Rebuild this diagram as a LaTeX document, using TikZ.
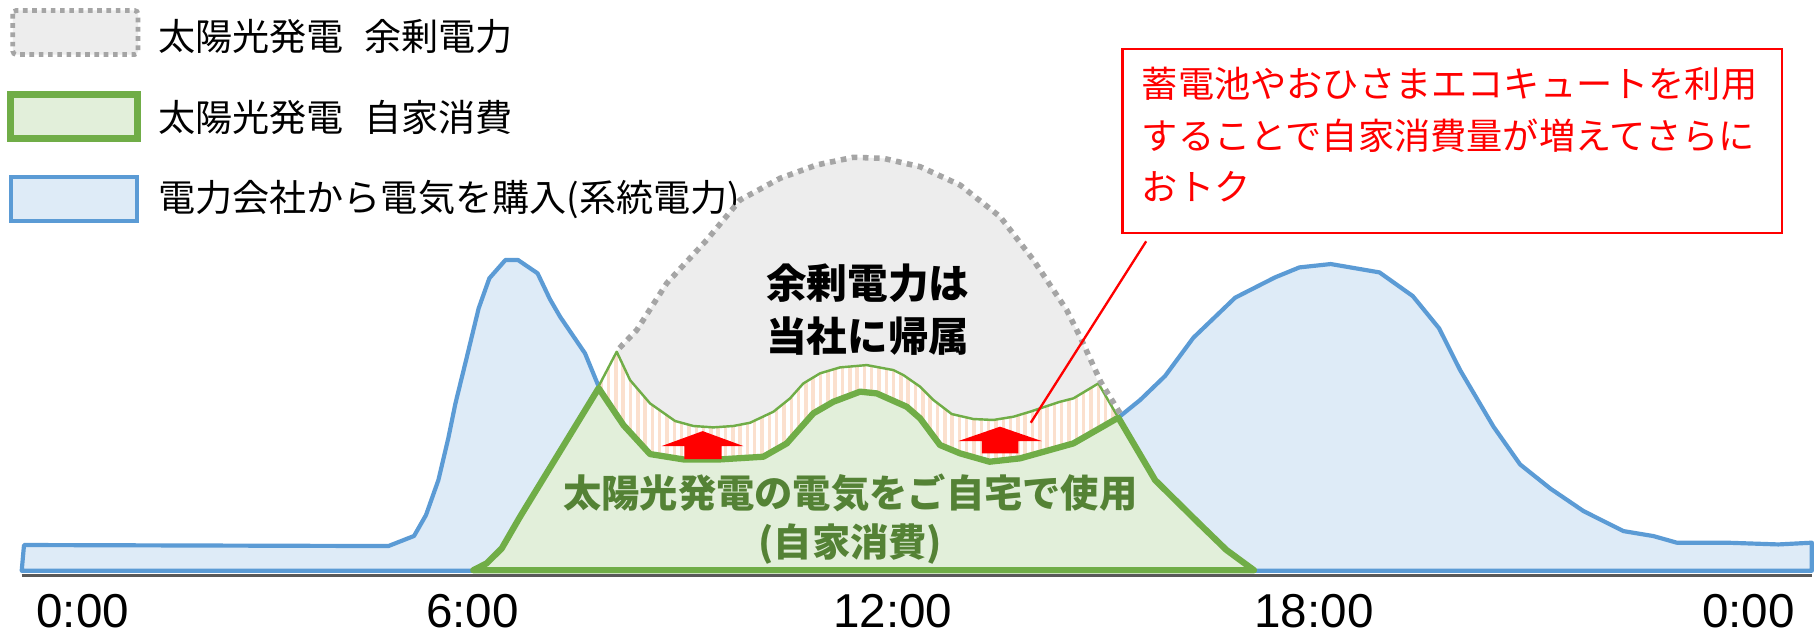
\documentclass[tikz,border=0pt]{standalone}
\usepackage{fontspec}
\setmainfont{Noto Sans CJK JP}
\newfontfamily\digitfont{Liberation Sans}
\definecolor{blueline}{HTML}{5B9BD5}
\definecolor{bluefill}{HTML}{DEEBF7}
\definecolor{greenline}{HTML}{70AD47}
\definecolor{greenfill}{HTML}{E2EFDA}
\definecolor{grayline}{HTML}{A5A5A5}
\definecolor{grayfill}{HTML}{EDEDED}
\definecolor{peach}{HTML}{FBE0CE}
\definecolor{gtext}{HTML}{548235}
\definecolor{axisgray}{HTML}{595959}
\definecolor{calloutred}{HTML}{FF0000}
\tikzset{
  legendtext/.style={anchor=west, inner sep=0pt, font=\fontsize{16}{19}\selectfont},
  boldtext/.style={inner sep=0pt, font=\fontsize{17.5}{21}\selectfont\bfseries},
  greentext/.style={inner sep=0pt, text=gtext, font=\fontsize{16.5}{20}\selectfont\bfseries},
  redtext/.style={anchor=west, inner sep=0pt, text=calloutred, font=\fontsize{15.6}{19}\selectfont},
  axislabel/.style={anchor=west, inner sep=0pt, font=\digitfont\fontsize{20.5}{24}\selectfont},
  bluestroke/.style={draw=blueline, line width=1.8pt, line join=round},
  greenstroke/.style={draw=greenline, line width=2.7pt, line join=round},
  thingreen/.style={draw=greenline, line width=1.05pt, line join=round},
  graydots/.style={draw=grayline, line width=2.4pt, dash pattern=on 2.4pt off 2.4pt},
  uparrow/.style={fill=calloutred}
}
\begin{document}
\begin{tikzpicture}[x=0.5pt,y=-0.5pt]
\useasboundingbox (0,0) rectangle (1568,547.4);
\fill[white] (0,0) rectangle (1568,547.4);

% legend
\path[fill=grayfill, draw=grayline, line width=2pt, dash pattern=on 2pt off 2pt, rounded corners=1.5pt] (11,9) rectangle (119,47);
\node[legendtext] (leg1) at (136,31.6) {太陽光発電\hspace{0.55em}余剰電力};
\path[fill=greenfill, draw=greenline, line width=2.8pt] (9,81.5) rectangle (118.5,119.5);
\node[legendtext] (leg2) at (136,101.3) {太陽光発電\hspace{0.55em}自家消費};
\path[fill=bluefill, draw=blueline, line width=1.8pt] (9.5,152.5) rectangle (118,190.5);
\node[legendtext] (leg3) at (136,171.7) {電力会社から電気を購入(系統電力)};

% grid purchase (blue)
\path[fill=bluefill, bluestroke] (18.7,492) -- (20.7,469.8) -- (334.8,470.7) -- (356.9,462) -- (367.2,444) -- (377.9,413.8) -- (386.4,377.9) -- (392.6,347.7) -- (401.8,310.3) -- (412.6,265.8) -- (421.8,239.9) -- (435.7,224.1) -- (446.5,224.1) -- (463.4,235.6) -- (474.1,258) -- (482.8,273) -- (504.3,304.6) -- (516,333)
 -- (537.4,366.4) -- (560.3,391.4) -- (589,396) -- (620.7,396) -- (658,393.7) -- (678.2,382.2) -- (701.1,356.3) -- (718.4,346.3) -- (741.4,337.6) -- (755.7,339.1) -- (781.6,350.6) -- (793.1,360.6) -- (810.3,383.6) -- (827.6,390.8) -- (853,398) -- (879.3,395.1) -- (925.3,382.2) -- (964,360)
 -- (982.8,344.8) -- (1004.3,324.1) -- (1028.7,291.1) -- (1064.7,256.6) -- (1099.1,239.1) -- (1120.1,230.5) -- (1147.1,227.6) -- (1189.1,234.8) -- (1217.8,255.2) -- (1240.5,283) -- (1258.6,319) -- (1287.4,367.8) -- (1310.3,400.3) -- (1336.2,421) -- (1364.9,440.5) -- (1399.4,457.8) -- (1425.3,462.1) -- (1445.4,467.8) -- (1488.5,467.8) -- (1533,469.3) -- (1561.8,467.8) -- (1561.8,492) -- cycle;

% surplus (gray)
\path[fill=grayfill] (531.6,303.2) -- (548.9,284.5) -- (574.7,244.2) -- (609.2,206.9) -- (637.9,172.4) -- (672.4,153.7) -- (704,142.2) -- (735.6,135.6) -- (761.5,136.5) -- (793.1,143.7) -- (827.6,159.5) -- (862.1,186.8) -- (890.8,224.1) -- (919.5,267.2) -- (931,290.2) -- (946.8,330.5) -- (964,360)
 -- (925.3,343.4) -- (913.8,346.3) -- (887.9,354.9) -- (873.6,359.2) -- (856.3,362) -- (839,361.2) -- (820.4,356.9) -- (804.6,344.8) -- (793.1,333.3) -- (778.7,323.3) -- (770.1,319) -- (747.1,314.7) -- (724.1,316.7) -- (706.9,321.8) -- (692.5,330.5) -- (681,343.4) -- (666.7,354.9) -- (646.6,364.4) -- (632.2,367.2) -- (614.9,368.4) -- (597.7,367.2) -- (581.9,362.9) -- (560.3,347.7) -- (543.1,327.6) -- cycle;

% hatched band (battery / EcoCute)
\begin{scope}
\clip (516,333) -- (531.6,303.2) -- (543.1,327.6) -- (560.3,347.7) -- (581.9,362.9) -- (597.7,367.2) -- (614.9,368.4) -- (632.2,367.2) -- (646.6,364.4) -- (666.7,354.9) -- (681,343.4) -- (692.5,330.5) -- (706.9,321.8) -- (724.1,316.7) -- (747.1,314.7) -- (770.1,319) -- (778.7,323.3) -- (793.1,333.3) -- (804.6,344.8) -- (820.4,356.9) -- (839,361.2) -- (856.3,362) -- (873.6,359.2) -- (887.9,354.9) -- (913.8,346.3) -- (925.3,343.4) -- (946.8,330.5) -- (964,360)
 -- (925.3,382.2) -- (879.3,395.1) -- (853,398) -- (827.6,390.8) -- (810.3,383.6) -- (793.1,360.6) -- (781.6,350.6) -- (755.7,339.1) -- (741.4,337.6) -- (718.4,346.3) -- (701.1,356.3) -- (678.2,382.2) -- (658,393.7) -- (620.7,396) -- (589,396) -- (560.3,391.4) -- (537.4,366.4) -- cycle;
\fill[white] (500,290) rectangle (980,410);
\foreach \sx in {512,518.3,...,970} \draw[peach, line width=1.5pt] (\sx,290) -- (\sx,410);
\end{scope}

% self consumption (green)
\path[fill=greenfill, greenstroke] (408,491.5) -- (419.5,485.6) -- (432.5,472.7) -- (448.3,445.4) -- (516,334.6)
 -- (537.4,366.4) -- (560.3,391.4) -- (589,396) -- (620.7,396) -- (658,393.7) -- (678.2,382.2) -- (701.1,356.3) -- (718.4,346.3) -- (741.4,337.6) -- (755.7,339.1) -- (781.6,350.6) -- (793.1,360.6) -- (810.3,383.6) -- (827.6,390.8) -- (853,398) -- (879.3,395.1) -- (925.3,382.2) -- (964,360)
 -- (995.7,413.8) -- (1033.5,451.1) -- (1057.2,474.1) -- (1080.9,491.5) -- cycle;

% upper boundary of the band
\draw[thingreen] (516,333) -- (531.6,303.2) -- (543.1,327.6) -- (560.3,347.7) -- (581.9,362.9) -- (597.7,367.2) -- (614.9,368.4) -- (632.2,367.2) -- (646.6,364.4) -- (666.7,354.9) -- (681,343.4) -- (692.5,330.5) -- (706.9,321.8) -- (724.1,316.7) -- (747.1,314.7) -- (770.1,319) -- (778.7,323.3) -- (793.1,333.3) -- (804.6,344.8) -- (820.4,356.9) -- (839,361.2) -- (856.3,362) -- (873.6,359.2) -- (887.9,354.9) -- (913.8,346.3) -- (925.3,343.4) -- (946.8,330.5) -- (964,360);

% surplus outline (dotted)
\draw[graydots] (534,300) -- (548.9,284.5) -- (574.7,244.2) -- (609.2,206.9) -- (637.9,172.4) -- (672.4,153.7) -- (704,142.2) -- (735.6,135.6) -- (761.5,136.5) -- (793.1,143.7) -- (827.6,159.5) -- (862.1,186.8) -- (890.8,224.1) -- (919.5,267.2) -- (931,290.2) -- (949,329.5) -- (966,357);

% axis
\draw[axisgray, line width=1.5pt] (18.7,496) -- (1561.8,496);

% up arrows
\fill[uparrow] (570.4,384.5) -- (605.7,371.6) -- (640.8,384.5) -- (622.1,384.5) -- (622.1,395.7) -- (589.9,395.7) -- (589.9,384.5) -- cycle;
\fill[uparrow] (826.1,380.2) -- (862,367.8) -- (898,380.2) -- (877.9,380.2) -- (877.9,390.8) -- (846.3,390.8) -- (846.3,380.2) -- cycle;

% labels in the chart
\node[boldtext] (surplus1) at (748,244) {余剰電力は};
\node[boldtext] (surplus2) at (748,289.5) {当社に帰属};
\node[greentext] (self1) at (733,425) {太陽光発電の電気をご自宅で使用};
\node[greentext] (self2) at (733,469) {(自家消費)};

% callout
\node[draw=calloutred, line width=1pt, minimum width=284.25pt, minimum height=79.5pt, inner sep=0pt, anchor=north west] (callout) at (966.5,41) {};
\node[redtext] (red1) at (984,72.6) {蓄電池やおひさまエコキュートを利用};
\node[redtext] (red2) at (984,116.7) {することで自家消費量が増えてさらに};
\node[redtext] (red3) at (984,161) {おトク};
\coordinate (callfoot) at (988,208);
\coordinate (calltip) at (888.5,364.4);
\draw[calloutred, line width=1pt] (callfoot) -- (calltip);

% time axis labels
\node[axislabel] (t0) at (31,527) {0:00};
\node[axislabel] (t6) at (367,527) {6:00};
\node[axislabel] (t12) at (718,527) {12:00};
\node[axislabel] (t18) at (1081,527) {18:00};
\node[axislabel] (t24) at (1467,527) {0:00};
\end{tikzpicture}
\end{document}
